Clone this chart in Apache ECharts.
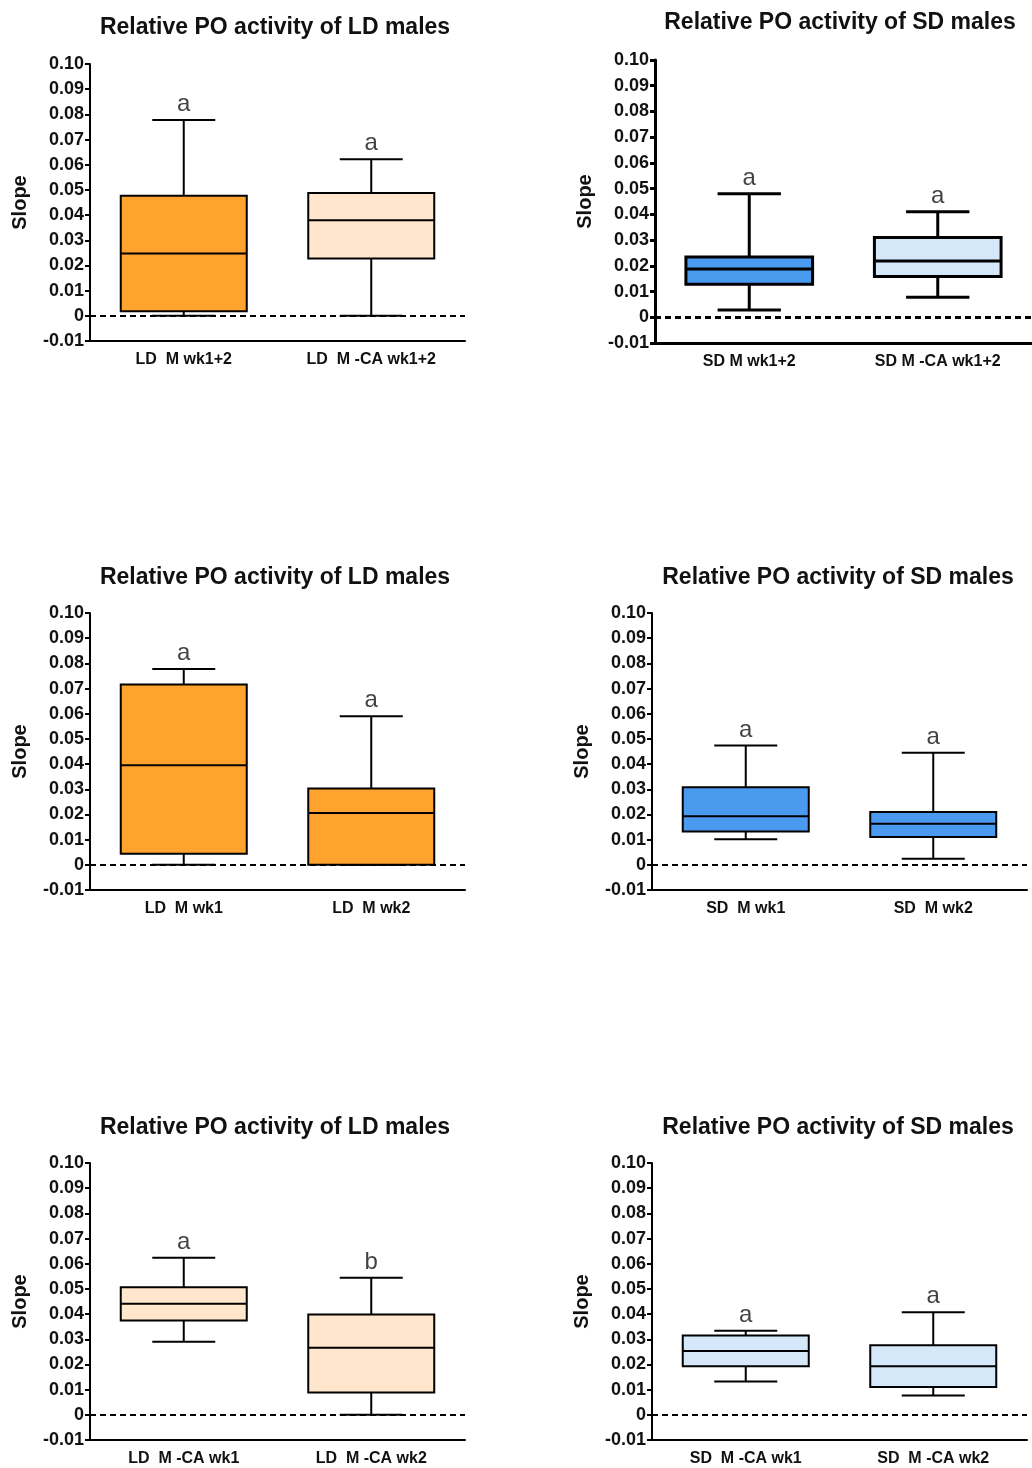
<!DOCTYPE html>
<html>
<head>
<meta charset="utf-8">
<script src="https://cdn.jsdelivr.net/npm/echarts@6/dist/echarts.min.js"></script>
<style>
html,body{margin:0;padding:0;background:#fff;}
#chart{width:1032px;height:1468px;}
</style>
</head>
<body>
<div id="chart"></div>
<script>
// ---- Data ----
var titles = [
  'Relative PO activity of LD males', 'Relative PO activity of SD males',
  'Relative PO activity of LD males', 'Relative PO activity of SD males',
  'Relative PO activity of LD males', 'Relative PO activity of SD males'
];
var categories1 = ['LD  M wk1+2', 'LD  M -CA wk1+2'];
var categories2 = ['SD M wk1+2', 'SD M -CA wk1+2'];
var categories3 = ['LD  M wk1', 'LD  M wk2'];
var categories4 = ['SD  M wk1', 'SD  M wk2'];
var categories5 = ['LD  M -CA wk1', 'LD  M -CA wk2'];
var categories6 = ['SD  M -CA wk1', 'SD  M -CA wk2'];
// [min, Q1, median, Q3, max]
var boxes1 = [[0.0, 0.0018, 0.0247, 0.0477, 0.0778], [0.0, 0.0228, 0.0380, 0.0488, 0.0622]];
var boxes2 = [[0.0028, 0.0128, 0.0188, 0.0234, 0.0480], [0.0078, 0.0158, 0.0219, 0.0310, 0.0410]];
var boxes3 = [[0.0, 0.0044, 0.0395, 0.0716, 0.0778], [0.0, 0.0, 0.0206, 0.0303, 0.0590]];
var boxes4 = [[0.0102, 0.0132, 0.0193, 0.0308, 0.0474], [0.0024, 0.0110, 0.0163, 0.0210, 0.0445]];
var boxes5 = [[0.0290, 0.0375, 0.0441, 0.0507, 0.0624], [0.0, 0.0089, 0.0266, 0.0398, 0.0544]];
var boxes6 = [[0.0132, 0.0193, 0.0253, 0.0315, 0.0334], [0.0077, 0.0110, 0.0193, 0.0276, 0.0407]];
var letters1 = ['a', 'a'];
var letters2 = ['a', 'a'];
var letters3 = ['a', 'a'];
var letters4 = ['a', 'a'];
var letters5 = ['a', 'b'];
var letters6 = ['a', 'a'];
var yTickLabels = ['-0.01', '0', '0.01', '0.02', '0.03', '0.04', '0.05', '0.06', '0.07', '0.08', '0.09', '0.10'];
var yMin = -0.01, yMax = 0.10, yStep = 0.01;

// ---- Styling / layout ----
var ORANGE = '#FFA22E', PEACH = '#FFE6CC', BLUE = '#4A9BF0', LIGHTBLUE = '#D4E8FA';
var FONT = '"Liberation Sans", Arial, sans-serif';

var panels = [
  {cats: categories1, boxes: boxes1, letters: letters1, colors: [ORANGE, PEACH], left: 90, top: 64, width: 375, height: 277, lw: 2, tx: 270, ty: 11},
  {cats: categories2, boxes: boxes2, letters: letters2, colors: [BLUE, LIGHTBLUE], left: 655, top: 60, width: 380, height: 283, lw: 3, tx: 835, ty: 6},
  {cats: categories3, boxes: boxes3, letters: letters3, colors: [ORANGE, ORANGE], left: 90, top: 613, width: 375, height: 277, lw: 2, tx: 270, ty: 561},
  {cats: categories4, boxes: boxes4, letters: letters4, colors: [BLUE, BLUE], left: 652, top: 613, width: 375, height: 277, lw: 2, tx: 833, ty: 561},
  {cats: categories5, boxes: boxes5, letters: letters5, colors: [PEACH, PEACH], left: 90, top: 1163, width: 375, height: 277, lw: 2, tx: 270, ty: 1111},
  {cats: categories6, boxes: boxes6, letters: letters6, colors: [LIGHTBLUE, LIGHTBLUE], left: 652, top: 1163, width: 375, height: 277, lw: 2, tx: 833, ty: 1111}
];

var option = {
  backgroundColor: '#fff',
  animation: false,
  title: [], grid: [], xAxis: [], yAxis: [], series: []
};

function makeRender(p) {
  return function (params, api) {
    var idx = api.value(0);
    var band = api.size([1, 0])[0];
    var bw = band * 0.672;
    var half = bw / 2, capHalf = bw / 4;
    var pMin = api.coord([idx, api.value(1)]);
    var pQ1 = api.coord([idx, api.value(2)]);
    var pMed = api.coord([idx, api.value(3)]);
    var pQ3 = api.coord([idx, api.value(4)]);
    var pMax = api.coord([idx, api.value(5)]);
    var cx = pMin[0];
    var ls = {stroke: '#000', lineWidth: p.lw};
    return {
      type: 'group',
      children: [
        {type: 'line', shape: {x1: cx, y1: pQ3[1], x2: cx, y2: pMax[1]}, style: ls},
        {type: 'line', shape: {x1: cx, y1: pQ1[1], x2: cx, y2: pMin[1]}, style: ls},
        {type: 'line', shape: {x1: cx - capHalf, y1: pMax[1], x2: cx + capHalf, y2: pMax[1]}, style: ls},
        {type: 'line', shape: {x1: cx - capHalf, y1: pMin[1], x2: cx + capHalf, y2: pMin[1]}, style: ls},
        {type: 'rect', shape: {x: cx - half, y: pQ3[1], width: bw, height: pQ1[1] - pQ3[1]},
          style: {fill: p.colors[params.dataIndex], stroke: '#000', lineWidth: p.lw}},
        {type: 'line', shape: {x1: cx - half, y1: pMed[1], x2: cx + half, y2: pMed[1]}, style: ls}
      ]
    };
  };
}

panels.forEach(function (p, i) {
  option.title.push({
    text: titles[i], left: p.tx, top: p.ty, textAlign: 'center',
    textStyle: {fontFamily: FONT, fontWeight: 'bold', fontSize: 23, color: '#111'}
  });
  option.grid.push({left: p.left, top: p.top, width: p.width, height: p.height, containLabel: false});
  option.xAxis.push({
    type: 'category', gridIndex: i, data: p.cats,
    axisLine: {onZero: false, lineStyle: {color: '#000', width: p.lw}},
    axisTick: {show: false},
    axisLabel: {fontFamily: FONT, fontWeight: 'bold', fontSize: 16, color: '#111', margin: 11, interval: 0},
    splitLine: {show: false}
  });
  option.yAxis.push({
    type: 'value', gridIndex: i, min: yMin, max: yMax, interval: yStep,
    name: 'Slope', nameLocation: 'middle', nameGap: 60, nameRotate: 90,
    nameTextStyle: {fontFamily: FONT, fontWeight: 'bold', fontSize: 20, color: '#111'},
    axisLine: {show: true, lineStyle: {color: '#000', width: p.lw}},
    axisTick: {show: true, length: 5, lineStyle: {color: '#000', width: p.lw}},
    axisLabel: {
      fontFamily: FONT, fontWeight: 'bold', fontSize: 18, color: '#111', margin: 6,
      formatter: function (v) { return yTickLabels[Math.round((v - yMin) / yStep)]; }
    },
    splitLine: {show: false}
  });
  option.series.push({
    type: 'custom', xAxisIndex: i, yAxisIndex: i,
    renderItem: makeRender(p),
    encode: {x: 0, y: [1, 2, 3, 4, 5]},
    data: p.boxes.map(function (b, j) { return [j].concat(b); }),
    z: 3,
    markLine: {
      silent: true, symbol: 'none', label: {show: false},
      lineStyle: {color: '#000', type: [6, 4], width: p.lw},
      data: [{yAxis: 0}],
      z: 2
    }
  });
  option.series.push({
    type: 'scatter', xAxisIndex: i, yAxisIndex: i,
    symbolSize: 1, itemStyle: {color: 'rgba(0,0,0,0)'},
    data: p.boxes.map(function (b, j) { return [j, b[4]]; }),
    label: {
      show: true, position: 'top', distance: 3,
      fontFamily: FONT, fontSize: 24, color: '#111',
      formatter: function (d) { return p.letters[d.dataIndex]; }
    },
    z: 4
  });
});

var chart = echarts.init(document.getElementById('chart'), null, {renderer: 'canvas'});
chart.setOption(option);
</script>
</body>
</html>
